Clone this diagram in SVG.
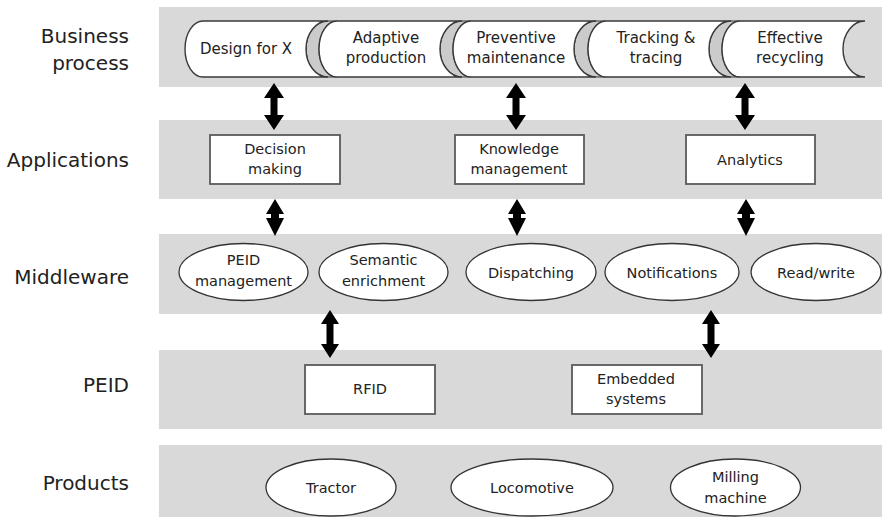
<svg xmlns="http://www.w3.org/2000/svg" width="890" height="520" viewBox="0 0 890 520">
  <style>
    .band { fill: #d9d9d9; }
    .lbl { font-family: "DejaVu Sans", "Liberation Sans", sans-serif; font-size: 20px; fill: #222; text-anchor: end; }
    .t { font-family: "DejaVu Sans", "Liberation Sans", sans-serif; font-size: 14.5px; fill: #222; text-anchor: middle; }
    .tb { font-family: "DejaVu Sans", "Liberation Sans", sans-serif; font-size: 15px; fill: #222; text-anchor: middle; }
    .scroll { fill: #fff; stroke: #3a3a3a; stroke-width: 1.4; }
    .roll { fill: #cbcbcb; stroke: #3a3a3a; stroke-width: 1.2; }
    .box { fill: #fff; stroke: #5a5a5a; stroke-width: 1.8; }
    .ell { fill: #fff; stroke: #333; stroke-width: 1.3; }
    .arr { fill: #000; }
  </style>

  <!-- layer bands -->
  <g id="bands">
    <rect class="band" x="159" y="7" width="723" height="80"/>
    <rect class="band" x="159" y="120" width="723" height="79"/>
    <rect class="band" x="159" y="234" width="723" height="80"/>
    <rect class="band" x="159" y="350" width="723" height="79"/>
    <rect class="band" x="159" y="445" width="723" height="72"/>
  </g>

  <!-- layer titles -->
  <g id="layer-labels">
    <text class="lbl" x="129" y="43">Business</text>
    <text class="lbl" x="129" y="70">process</text>
    <text class="lbl" x="129" y="167">Applications</text>
    <text class="lbl" x="129" y="284">Middleware</text>
    <text class="lbl" x="129" y="392">PEID</text>
    <text class="lbl" x="129" y="490">Products</text>
  </g>

  <!-- rolled edges between the process scrolls -->
  <g id="scroll-rolls">
    <path class="roll" d="M328,21 A22 28 0 0 0 328,77 L337,77 A18 28 0 0 1 337,21 Z"/>
    <path class="roll" d="M462,21 A22 28 0 0 0 462,77 L471,77 A18 28 0 0 1 471,21 Z"/>
    <path class="roll" d="M596,21 A22 28 0 0 0 596,77 L606,77 A18 28 0 0 1 606,21 Z"/>
    <path class="roll" d="M731,21 A22 28 0 0 0 731,77 L740,77 A18 28 0 0 1 740,21 Z"/>
  </g>

  <!-- business processes -->
  <g id="bp-design">
    <path class="scroll" d="M203,21 L328,21 A22 28 0 0 0 328,77 L203,77 A18 28 0 0 1 203,21 Z"/>
    <text class="tb" x="246" y="54">Design for X</text>
  </g>
  <g id="bp-adaptive">
    <path class="scroll" d="M337,21 L462,21 A22 28 0 0 0 462,77 L337,77 A18 28 0 0 1 337,21 Z"/>
    <text class="tb" x="386" y="43">Adaptive</text>
    <text class="tb" x="386" y="63">production</text>
  </g>
  <g id="bp-preventive">
    <path class="scroll" d="M471,21 L596,21 A22 28 0 0 0 596,77 L471,77 A18 28 0 0 1 471,21 Z"/>
    <text class="tb" x="516" y="43">Preventive</text>
    <text class="tb" x="516" y="63">maintenance</text>
  </g>
  <g id="bp-tracking">
    <path class="scroll" d="M606,21 L731,21 A22 28 0 0 0 731,77 L606,77 A18 28 0 0 1 606,21 Z"/>
    <text class="tb" x="656" y="43">Tracking &amp;</text>
    <text class="tb" x="656" y="63">tracing</text>
  </g>
  <g id="bp-recycling">
    <path class="scroll" d="M740,21 L865,21 A22 28 0 0 0 865,77 L740,77 A18 28 0 0 1 740,21 Z"/>
    <text class="tb" x="790" y="43">Effective</text>
    <text class="tb" x="790" y="63">recycling</text>
  </g>

  <!-- applications -->
  <g id="app-decision">
    <rect class="box" x="210" y="135" width="130" height="49"/>
    <text class="t" x="275" y="154">Decision</text>
    <text class="t" x="275" y="174">making</text>
  </g>
  <g id="app-knowledge">
    <rect class="box" x="455" y="135" width="129" height="49"/>
    <text class="t" x="519" y="154">Knowledge</text>
    <text class="t" x="519" y="174">management</text>
  </g>
  <g id="app-analytics">
    <rect class="box" x="686" y="135" width="129" height="49"/>
    <text class="t" x="750" y="165">Analytics</text>
  </g>

  <!-- middleware -->
  <g id="mw-peid">
    <ellipse class="ell" cx="243.5" cy="272" rx="64.5" ry="28.5"/>
    <text class="t" x="243.5" y="265">PEID</text>
    <text class="t" x="243.5" y="286">management</text>
  </g>
  <g id="mw-semantic">
    <ellipse class="ell" cx="383.5" cy="272" rx="64.5" ry="28.5"/>
    <text class="t" x="383.5" y="265">Semantic</text>
    <text class="t" x="383.5" y="286">enrichment</text>
  </g>
  <g id="mw-dispatching">
    <ellipse class="ell" cx="531" cy="272" rx="65" ry="28.5"/>
    <text class="t" x="531" y="278">Dispatching</text>
  </g>
  <g id="mw-notifications">
    <ellipse class="ell" cx="672" cy="272" rx="67" ry="28.5"/>
    <text class="t" x="672" y="278">Notifications</text>
  </g>
  <g id="mw-readwrite">
    <ellipse class="ell" cx="816" cy="272" rx="65" ry="28.5"/>
    <text class="t" x="816" y="278">Read/write</text>
  </g>

  <!-- PEID devices -->
  <g id="peid-rfid">
    <rect class="box" x="305" y="365" width="130" height="49"/>
    <text class="t" x="370" y="394">RFID</text>
  </g>
  <g id="peid-embedded">
    <rect class="box" x="572" y="365" width="130" height="49"/>
    <text class="t" x="636" y="384">Embedded</text>
    <text class="t" x="636" y="404">systems</text>
  </g>

  <!-- products -->
  <g id="prod-tractor">
    <ellipse class="ell" cx="331" cy="487.5" rx="65" ry="28.5"/>
    <text class="t" x="331" y="493">Tractor</text>
  </g>
  <g id="prod-locomotive">
    <ellipse class="ell" cx="532" cy="487.5" rx="81" ry="28.5"/>
    <text class="t" x="532" y="493">Locomotive</text>
  </g>
  <g id="prod-milling">
    <ellipse class="ell" cx="735.5" cy="487.5" rx="65" ry="28.5"/>
    <text class="t" x="735.5" y="482">Milling</text>
    <text class="t" x="735.5" y="503">machine</text>
  </g>

  <!-- two-way connectors between layers -->
  <g id="connectors">
    <!-- business process ↔ applications -->
    <path class="arr" d="M274,83 L284,98 L277.5,98 L277.5,115 L284,115 L274,130 L264,115 L270.5,115 L270.5,98 L264,98 Z"/>
    <path class="arr" d="M516,83 L526,98 L519.5,98 L519.5,115 L526,115 L516,130 L506,115 L512.5,115 L512.5,98 L506,98 Z"/>
    <path class="arr" d="M745,83 L755,98 L748.5,98 L748.5,115 L755,115 L745,130 L735,115 L741.5,115 L741.5,98 L735,98 Z"/>
    <!-- applications ↔ middleware -->
    <path class="arr" d="M275,199 L284,214 L279,214 L279,218 L284,218 L275,236 L266,218 L271,218 L271,214 L266,214 Z"/>
    <path class="arr" d="M517,199 L526,214 L521,214 L521,218 L526,218 L517,236 L508,218 L513,218 L513,214 L508,214 Z"/>
    <path class="arr" d="M746,199 L755,214 L750,214 L750,218 L755,218 L746,236 L737,218 L742,218 L742,214 L737,214 Z"/>
    <!-- middleware ↔ PEID -->
    <path class="arr" d="M330,310 L339,324 L333.5,324 L333.5,344 L339,344 L330,358 L321,344 L326.5,344 L326.5,324 L321,324 Z"/>
    <path class="arr" d="M711,310 L720,324 L714.5,324 L714.5,344 L720,344 L711,358 L702,344 L707.5,344 L707.5,324 L702,324 Z"/>
  </g>
</svg>
